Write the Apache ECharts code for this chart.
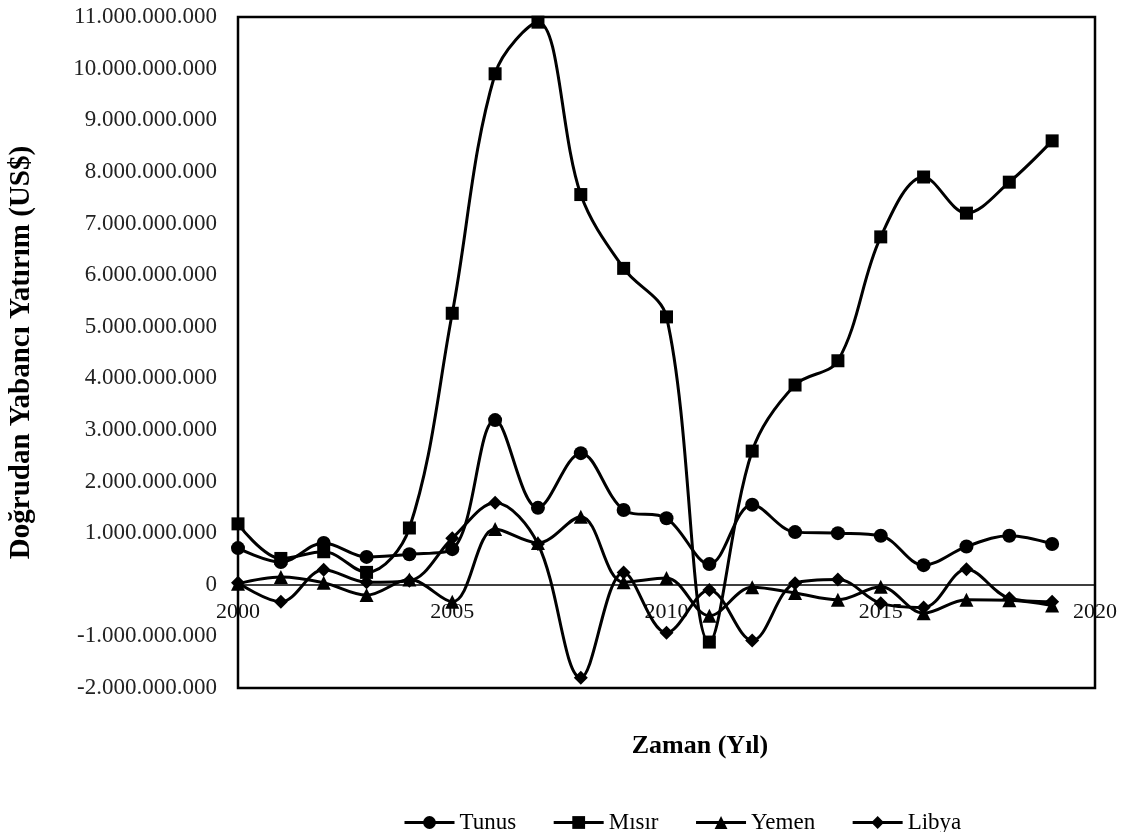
<!DOCTYPE html>
<html>
<head>
<meta charset="utf-8">
<script src="https://cdn.jsdelivr.net/npm/echarts@6/dist/echarts.min.js"></script>
<style>html,body{margin:0;padding:0;background:#fff;}#c{width:1140px;height:832px;}</style>
</head>
<body>
<div id="c"></div>
<script>
var years = [2000,2001,2002,2003,2004,2005,2006,2007,2008,2009,2010,2011,2012,2013,2014,2015,2016,2017,2018,2019];
// values in billions of US$
var tunus = [0.71,0.44,0.81,0.54,0.59,0.69,3.19,1.49,2.55,1.45,1.29,0.40,1.55,1.02,1.00,0.95,0.38,0.74,0.95,0.79];
var misir = [1.18,0.51,0.64,0.24,1.10,5.26,9.90,10.90,7.56,6.13,5.19,-1.11,2.59,3.87,4.34,6.74,7.90,7.20,7.80,8.60];
var yemen = [0.02,0.15,0.04,-0.20,0.10,-0.33,1.08,0.81,1.32,0.05,0.13,-0.60,-0.05,-0.16,-0.29,-0.04,-0.55,-0.29,-0.30,-0.40];
var libya = [0.04,-0.33,0.29,0.05,0.08,0.90,1.59,0.79,-1.80,0.24,-0.93,-0.10,-1.08,0.03,0.10,-0.36,-0.44,0.30,-0.26,-0.33];
var seriesNames = ['Tunus','Mısır','Yemen','Libya'];
var xTitle = 'Zaman (Yıl)';
var yTitle = 'Doğrudan Yabancı Yatırım (US$)';

function pairs(arr){ return arr.map(function(v,i){ return [years[i], v*1e9]; }); }
function fmt(v){ return Math.round(v).toString().replace(/\B(?=(\d{3})+(?!\d))/g,'.'); }

var serif = '"Liberation Serif","Times New Roman",serif';
function mk(name, data, symbol, size){
  return {
    name: name, type: 'line', data: pairs(data), smooth: 0.35,
    symbol: symbol, symbolSize: size,
    lineStyle: {color:'#000', width:3},
    itemStyle: {color:'#000', borderWidth:0},
    emphasis: {disabled:true}
  };
}
var chart = echarts.init(document.getElementById('c'));
chart.setOption({
  animation: false,
  backgroundColor: '#fff',
  title: {
    text: xTitle, left: 695, top: 728, textAlign: 'center',
    textStyle: {fontFamily: serif, fontSize: 26, fontWeight: 'bold', color: '#000'}
  },
  legend: {
    left: 398, top: 806, itemWidth: 50, itemHeight: 16, itemGap: 36,
    lineStyle: {width: 3, color: '#000'},
    textStyle: {fontFamily: serif, fontSize: 23, color: '#000'},
    data: seriesNames
  },
  grid: {left: 238, right: 45, top: 17, bottom: 144, show: true, borderColor: '#000', borderWidth: 2.5, containLabel: false, outerBoundsMode: 'none'},
  xAxis: {
    type: 'value', min: 2000, max: 2020, interval: 5,
    axisLine: {show: true, onZero: true, lineStyle: {color:'#000', width: 1.5}},
    axisTick: {show: false},
    splitLine: {show: false},
    axisLabel: {fontFamily: serif, fontSize: 22, color: '#111', margin: -87, formatter: function(v){return String(v);}}
  },
  yAxis: {
    type: 'value', min: -2e9, max: 11e9, interval: 1e9,
    name: yTitle, nameLocation: 'middle', nameRotate: 90, nameGap: 202,
    nameTextStyle: {fontFamily: serif, fontSize: 29, fontWeight: 'bold', color: '#000'},
    axisLine: {show: false}, axisTick: {show: false}, splitLine: {show: false},
    axisLabel: {fontFamily: serif, fontSize: 23, color: '#222', margin: 21, formatter: fmt}
  },
  series: [
    mk(seriesNames[0], tunus, 'circle', 14),
    mk(seriesNames[1], misir, 'rect', 13),
    mk(seriesNames[2], yemen, 'triangle', 14),
    mk(seriesNames[3], libya, 'diamond', 14)
  ]
});
</script>
</body>
</html>
